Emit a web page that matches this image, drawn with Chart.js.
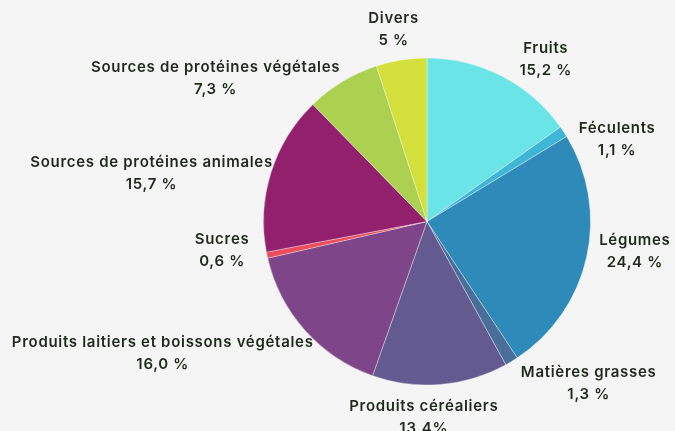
<!DOCTYPE html>
<html>
<head>
<meta charset="utf-8">
<script src="https://cdn.jsdelivr.net/npm/chart.js@4"></script>
<style>
  body { margin: 0; background: #f5f5f5; }
  canvas { display: block; }
</style>
</head>
<body>
<canvas id="myChart" width="675" height="431"></canvas>
<script>
var categories = ['Fruits', 'Féculents', 'Légumes', 'Matières grasses', 'Produits céréaliers',
    'Produits laitiers et boissons végétales', 'Sucres', 'Sources de protéines animales',
    'Sources de protéines végétales', 'Divers'];
var values = [15.2, 1.1, 24.4, 1.3, 13.4, 16.0, 0.6, 15.7, 7.3, 5];
var valueLabels = ['15,2 %', '1,1 %', '24,4 %', '1,3 %', '13,4%', '16,0 %', '0,6 %', '15,7 %', '7,3 %', '5 %'];
var colors = ['#6ae4e6', '#40b6d6', '#2d8ab9', '#4a6e9a', '#635a8f', '#7e4588', '#ea4d5c', '#93206d', '#acd050', '#d3e03c'];

// labels outside the pie, placed from each arc's mid angle (+ small hand nudges)
var outsideLabels = {
    id: 'outsideLabels',
    afterDatasetsDraw: function(chart, args, opts) {
        var ctx = chart.ctx;
        var arcs = chart.getDatasetMeta(0).data;
        ctx.save();
        ctx.font = '600 15px Inter';
        ctx.letterSpacing = '0.7px';
        ctx.fillStyle = '#1e2a1b';
        ctx.textBaseline = 'middle';
        ctx.textAlign = 'center';
        var lineH = 22;
        arcs.forEach(function(arc, i) {
            var mid = (arc.startAngle + arc.endAngle) / 2;
            var R = arc.outerRadius + 18;
            var ax = arc.x + Math.cos(mid) * R;
            var ay = arc.y + Math.sin(mid) * R;
            var lines = [categories[i], valueLabels[i]];
            var w = Math.max(ctx.measureText(lines[0]).width, ctx.measureText(lines[1]).width);
            var h = lines.length * lineH;
            var cx, cy;
            var s = Math.cos(mid), c = Math.sin(mid);
            if (Math.abs(s) < 0.3) {
                cx = ax;
                cy = c > 0 ? ay + h / 2 : ay - h / 2;
            } else {
                cx = s > 0 ? ax + w / 2 : ax - w / 2;
                cy = ay;
            }
            var n = opts.nudge[i] || [0, 0];
            cx += n[0];
            cy += n[1];
            lines.forEach(function(t, k) {
                ctx.fillText(t, cx, cy - h / 2 + lineH / 2 + k * lineH);
            });
        });
        ctx.restore();
    }
};

var ctx = document.getElementById('myChart').getContext('2d');
var myChart = new Chart(ctx, {
    type: 'pie',
    data: {
        labels: categories,
        datasets: [{
            data: values,
            backgroundColor: colors,
            borderColor: 'rgba(255,255,255,0.35)',
            borderWidth: 1
        }]
    },
    options: {
        responsive: false,
        animation: false,
        layout: {
            padding: { top: 57, bottom: 45, left: 263, right: 84 }
        },
        plugins: {
            legend: { display: false },
            tooltip: { enabled: false },
            outsideLabels: {
                nudge: [[9, -1], [0, 18], [-5, -10], [0, 7], [-18, -7],
                        [22, 11], [0, -8], [19, 6], [7, 12], [-5, 9]]
            }
        }
    },
    plugins: [outsideLabels]
});
</script>
</body>
</html>
